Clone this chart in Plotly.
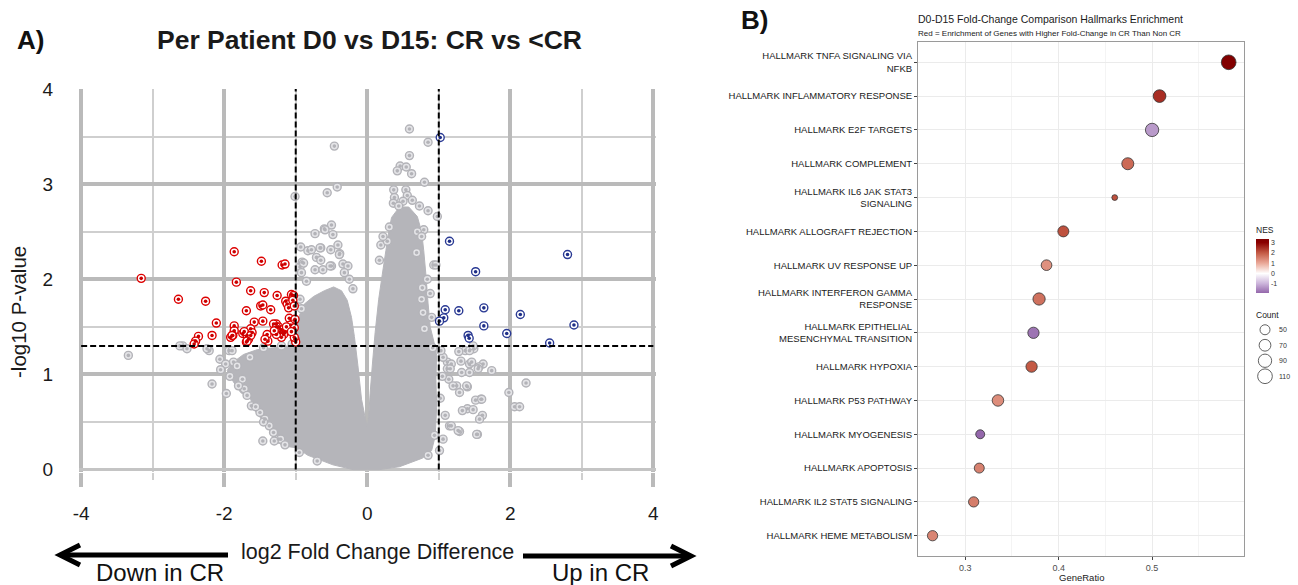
import math
import plotly.graph_objects as go

W, H = 1298, 585

# ---------------- Panel A data (volcano) ----------------
# outline of the dense grey cloud (log2FC difference, -log10 p)
cloud_x = [0.0, -0.20, -0.48, -0.83, -0.99, -1.10, -1.22, -1.33, -1.40, -1.52, -1.59, -1.63, -1.77, -1.87,
           -1.96, -1.89, -1.73, -1.54, -1.31, -1.02, -0.99, -0.96, -0.88, -0.75, -0.60, -0.47, -0.36, -0.28,
           -0.22, -0.18, -0.13, -0.08, -0.03, 0.0, 0.02, 0.04, 0.07, 0.11, 0.16, 0.21, 0.26, 0.30, 0.34,
           0.45, 0.58, 0.70, 0.76, 0.79, 0.82, 0.85, 0.88, 0.93, 0.97, 0.96, 0.97, 0.95, 0.90, 0.77, 0.45, 0.17]
cloud_y = [0.0, 0.0, 0.05, 0.15, 0.23, 0.24, 0.27, 0.36, 0.46, 0.57, 0.64, 0.74, 0.81, 0.92,
           1.04, 1.12, 1.21, 1.26, 1.28, 1.31, 1.45, 1.60, 1.74, 1.82, 1.88, 1.92, 1.88, 1.78,
           1.60, 1.40, 1.09, 0.74, 0.55, 0.45, 0.55, 0.80, 1.09, 1.44, 1.79, 2.05, 2.30, 2.50, 2.65,
           2.76, 2.76, 2.66, 2.50, 2.30, 2.05, 1.75, 1.50, 1.35, 1.20, 0.95, 0.65, 0.35, 0.20, 0.12, 0.03, 0.0]

grey_points = [
    (0.59, 3.58), (-0.46, 3.40), (0.85, 3.44), (0.59, 3.30), (0.46, 3.19), (0.545, 3.18), (0.42, 3.14),
    (0.62, 3.11), (0.80, 3.02), (-0.42, 2.97), (-0.56, 2.91), (-1.01, 2.87), (0.37, 2.94), (0.54, 2.94),
    (0.38, 2.86), (0.56, 2.88), (0.365, 2.80), (0.50, 2.82), (0.63, 2.83), (0.44, 2.77), (0.73, 2.77),
    (0.85, 2.72), (0.98, 2.66), (0.79, 2.52), (0.70, 2.50), (0.19, 2.36), (0.28, 2.40), (0.93, 2.15),
    (0.69, 2.28), (0.31, 2.55), (-0.50, 2.57), (-0.60, 2.53), (-0.73, 2.48), (-0.93, 2.34), (-0.83, 2.30),
    (-0.65, 2.33), (-0.51, 2.31), (-0.41, 2.36), (-0.385, 2.27), (-0.71, 2.23), (-0.65, 2.20), (-0.94, 2.13),
    (-0.91, 2.18), (-0.73, 2.10), (-0.62, 2.10), (-0.50, 2.14), (-0.34, 2.16), (-0.27, 2.14), (-0.89, 2.17),
    (-0.78, 2.31), (-0.59, 2.52), (-0.48, 2.47), (-0.66, 2.33), (-0.39, 2.26), (-0.32, 2.07), (-0.92, 2.07),
    (-0.85, 1.98), (-0.52, 2.14), (-0.94, 1.79), (-0.92, 1.69), (0.96, 2.15), (0.84, 2.00), (0.76, 1.79),
    (0.76, 2.45), (0.77, 1.91), (0.78, 1.65), (0.80, 1.48), (-0.25, 2.00), (-0.20, 1.90), (0.17, 2.20),
    (0.22, 2.45), (0.88, 1.85), (0.90, 1.60),
    (-3.34, 1.20), (-2.17, 0.90), (-1.97, 0.80), (-1.46, 0.30), (-2.06, 1.16), (-1.87, 1.13), (-1.93, 1.25),
    (-2.21, 1.25), (-2.24, 1.27), (-2.58, 1.30), (-2.52, 1.27), (-2.62, 1.30), (-1.98, 1.11), (-1.64, 1.18),
    (-1.82, 1.09), (-1.745, 0.95), (-1.72, 0.85), (-1.62, 0.67), (-1.50, 0.60), (-1.43, 0.53), (-1.37, 0.46),
    (-1.31, 0.39), (-1.24, 0.32), (-1.21, 0.32), (-1.89, 1.25), (-2.05, 1.05), (-1.92, 0.98), (-1.80, 0.88),
    (-1.68, 0.78), (-1.56, 0.66), (-1.45, 0.50), (-1.30, 0.30), (-1.15, 0.26), (-0.95, 0.18), (-0.70, 0.09),
    (-1.05, 1.32), (-1.20, 1.30), (-1.45, 1.28),
    (1.14, 0.95), (1.25, 0.88), (1.40, 0.87), (1.59, 0.74), (1.40, 0.64), (1.61, 0.57), (1.29, 0.40),
    (1.54, 0.37), (1.15, 0.46), (1.09, 0.57), (1.98, 0.81), (2.06, 0.66), (2.13, 0.66), (2.22, 0.91),
    (1.74, 1.04), (1.37, 1.25), (1.49, 1.27), (1.62, 1.11), (1.31, 1.14), (1.43, 1.11), (1.56, 1.08),
    (1.12, 1.13), (1.12, 1.06), (0.915, 1.28), (1.28, 1.24), (1.43, 1.25), (1.48, 1.30), (1.46, 1.13),
    (1.175, 1.11), (1.06, 1.18), (1.16, 1.06), (1.32, 1.02), (1.43, 1.02), (1.55, 1.06), (1.20, 0.88),
    (1.29, 0.81), (1.39, 0.88), (1.515, 0.73), (1.60, 0.74), (1.33, 0.62), (1.48, 0.63), (1.57, 0.53),
    (1.53, 0.37), (1.27, 0.41), (1.175, 0.46), (1.06, 0.32), (0.94, 0.36), (1.02, 0.75), (1.05, 0.98),
    (1.01, 0.20), (0.85, 0.15), (1.03, 1.25),
]

down_points = [
    (-3.16, 2.01), (-1.86, 2.29), (-1.48, 2.19), (-1.19, 2.15), (-1.15, 2.16), (-1.83, 1.97), (-2.64, 1.79),
    (-2.26, 1.77), (-1.63, 1.88), (-1.44, 1.86), (-1.26, 1.83), (-1.06, 1.84), (-1.14, 1.77), (-1.12, 1.74),
    (-1.10, 1.70), (-1.49, 1.72), (-1.46, 1.73), (-1.35, 1.68), (-1.69, 1.67), (-2.11, 1.54), (-1.86, 1.51),
    (-1.86, 1.46), (-1.58, 1.55), (-1.46, 1.56), (-1.27, 1.53), (-1.24, 1.50), (-1.21, 1.47), (-1.18, 1.44),
    (-1.15, 1.44), (-1.09, 1.59), (-1.02, 1.57), (-1.07, 1.52), (-1.02, 1.49), (-2.36, 1.40), (-2.40, 1.35),
    (-2.42, 1.32), (-2.17, 1.41), (-1.91, 1.39), (-1.88, 1.41), (-1.74, 1.43), (-1.68, 1.41), (-1.63, 1.48),
    (-1.61, 1.44), (-1.69, 1.34), (-1.66, 1.37), (-1.40, 1.42), (-1.39, 1.35), (-1.43, 1.37), (-1.31, 1.53),
    (-1.27, 1.50), (-1.22, 1.44), (-1.17, 1.42), (-1.20, 1.39), (-1.27, 1.42), (-1.01, 1.37), (-1.00, 1.34),
    (-1.03, 1.83), (-1.04, 1.78), (-1.02, 1.72), (-1.01, 1.58), (-1.02, 1.39), (-1.72, 1.45), (-1.63, 1.41),
    (-1.68, 1.35), (-1.89, 1.41), (-1.30, 1.46), (-1.13, 1.50), (-1.06, 1.45),
]

up_points = [
    (1.15, 2.40), (2.80, 2.26), (1.515, 2.08), (1.09, 1.68), (1.28, 1.67), (1.63, 1.70), (2.14, 1.63),
    (1.07, 1.595), (1.01, 1.56), (1.63, 1.51), (2.89, 1.52), (1.95, 1.43), (1.41, 1.41), (1.425, 1.38),
    (2.55, 1.33), (1.02, 3.49),
]

fc_cut = [-1, 1]
p_cut = 1.30
x_ticks = [-4, -2, 0, 2, 4]
y_ticks = [0, 1, 2, 3, 4]

# ---------------- Panel B data (hallmark enrichment) ----------------
pathways = [
    "HALLMARK TNFA SIGNALING VIA<br>NFKB",
    "HALLMARK INFLAMMATORY RESPONSE",
    "HALLMARK E2F TARGETS",
    "HALLMARK COMPLEMENT",
    "HALLMARK IL6 JAK STAT3<br>SIGNALING",
    "HALLMARK ALLOGRAFT REJECTION",
    "HALLMARK UV RESPONSE UP",
    "HALLMARK INTERFERON GAMMA<br>RESPONSE",
    "HALLMARK EPITHELIAL<br>MESENCHYMAL TRANSITION",
    "HALLMARK HYPOXIA",
    "HALLMARK P53 PATHWAY",
    "HALLMARK MYOGENESIS",
    "HALLMARK APOPTOSIS",
    "HALLMARK IL2 STAT5 SIGNALING",
    "HALLMARK HEME METABOLISM",
]
gene_ratio = [0.582, 0.508, 0.500, 0.474, 0.460, 0.405, 0.387, 0.379, 0.373, 0.371, 0.335, 0.316, 0.315, 0.309, 0.265]
nes = [3.3, 2.5, -1.3, 1.8, 2.1, 2.1, 1.3, 1.7, -1.75, 2.0, 1.35, -1.9, 1.5, 1.55, 1.45]
counts = [110, 82, 90, 73, 16, 61, 57, 76, 64, 64, 67, 40, 50, 53, 53]
count_breaks = [50, 70, 90, 110]
nes_ticks = [-1, 0, 1, 2, 3]
ratio_ticks = [0.3, 0.4, 0.5]
NES_MIN, NES_MAX = -1.9, 3.35


def dot_size(c):
    return 10 + 1.374 * (math.sqrt(c) - math.sqrt(50))


def px(x):
    return x / W


def py(y):
    return 1 - y / H


def nes_pos(v):
    return (v - NES_MIN) / (NES_MAX - NES_MIN)


FONT = "Liberation Sans, Arial, sans-serif"
fig = go.Figure()

# grey cloud as a filled region in data coordinates
cloud_path = "M " + " L ".join(f"{a},{b}" for a, b in zip(cloud_x, cloud_y)) + " Z"
fig.add_shape(type="path", xref="x", yref="y", path=cloud_path, fillcolor="#b5b5ba",
              line=dict(color="#b5b5ba", width=1), layer="between")


def ringed(points, ring, fill, dot):
    xs = [p[0] for p in points]
    ys = [p[1] for p in points]
    fig.add_trace(go.Scatter(x=xs, y=ys, mode="markers", showlegend=False, hoverinfo="skip",
                             marker=dict(size=8, color=fill, line=dict(color=ring, width=1.4)),
                             xaxis="x", yaxis="y"))
    fig.add_trace(go.Scatter(x=xs, y=ys, mode="markers", showlegend=False, hoverinfo="skip",
                             marker=dict(size=3.6, color=dot, line=dict(width=0)),
                             xaxis="x", yaxis="y"))


ringed(grey_points, "#b3b3b8", "#e4e4e7", "#b3b3b8")
ringed(down_points, "#dd0000", "#ffffff", "#cc0000")
ringed(up_points, "#2a3a94", "#ffffff", "#1f2f88")

# threshold lines
for v in fc_cut:
    fig.add_shape(type="line", xref="x", yref="y", x0=v, x1=v, y0=0, y1=4,
                  line=dict(color="black", width=2, dash="6px,3px"), layer="above")
fig.add_shape(type="line", xref="x", yref="y", x0=-4, x1=4, y0=p_cut, y1=p_cut,
              line=dict(color="black", width=2, dash="6px,3px"), layer="above")

# Panel B dots
colorscale = [[0, "#9467ab"], [nes_pos(-1), "#cbb3da"], [nes_pos(0), "#ffffff"], [nes_pos(1), "#eaa898"],
              [nes_pos(2), "#c45a45"], [nes_pos(3), "#8b0000"], [1, "#800000"]]
fig.add_trace(go.Scatter(
    x=gene_ratio, y=pathways, mode="markers", showlegend=False, hoverinfo="skip",
    marker=dict(size=[dot_size(c) for c in counts], color=nes, cmin=NES_MIN, cmax=NES_MAX, opacity=1,
                colorscale=colorscale, line=dict(color="#333333", width=0.8),
                colorbar=dict(x=px(1256), xanchor="left", y=py(224), yanchor="top", len=69, lenmode="pixels",
                              thickness=13, outlinewidth=0, tickvals=nes_ticks,
                              ticktext=[str(t) for t in nes_ticks], ticklen=0,
                              tickfont=dict(size=7, color="#333", family=FONT),
                              title=dict(text="NES", font=dict(size=8.5, color="#222", family=FONT), side="top"),
                              xpad=0, ypad=0)),
    xaxis="x2", yaxis="y2"))

# size legend (Count) drawn on its own small axis
fig.add_trace(go.Scatter(
    x=[0] * len(count_breaks), y=[str(c) for c in count_breaks], mode="markers", showlegend=False,
    hoverinfo="skip",
    marker=dict(size=[dot_size(c) for c in count_breaks], color="white", line=dict(color="#222", width=1)),
    xaxis="x3", yaxis="y3"))

fig.update_layout(
    width=W, height=H, margin=dict(l=0, r=0, t=0, b=0, autoexpand=False),
    paper_bgcolor="white", plot_bgcolor="white", showlegend=False,
    font=dict(family=FONT, color="#1a1a1a"),
    xaxis=dict(domain=[px(79), px(655.5)], range=[-4.03, 4.03], tickmode="array", tickvals=x_ticks,
               ticktext=[str(t) for t in x_ticks],
               showgrid=True, gridcolor="#bababa", gridwidth=4, zeroline=False, showline=False,
               ticks="outside", ticklen=14, tickwidth=4, tickcolor="#bababa",
               tickfont=dict(size=19, color="#1a1a1a"), ticklabelstandoff=11,
               minor=dict(tickmode="linear", tick0=0, dtick=1, showgrid=True, gridcolor="#cfcfcf", gridwidth=1.5,
                          ticks="outside", ticklen=7, tickwidth=1.5, tickcolor="#cfcfcf"),
               anchor="y"),
    yaxis=dict(domain=[py(471.5), py(89)], range=[-0.02, 4], tickmode="array", tickvals=y_ticks,
               ticktext=[str(t) for t in y_ticks],
               showgrid=True, gridcolor="#bababa", gridwidth=4, zeroline=True, zerolinecolor="#c4c4c4",
               zerolinewidth=2.5, showline=False, ticks="", tickfont=dict(size=19, color="#1a1a1a"),
               ticklabelstandoff=25,
               minor=dict(tickmode="linear", tick0=0, dtick=0.5, showgrid=True, gridcolor="#cfcfcf", gridwidth=1.5),
               anchor="x"),
    xaxis2=dict(domain=[px(918), px(1244)], range=[0.2494, 0.5984], tickvals=ratio_ticks,
                ticktext=[str(t) for t in ratio_ticks], showgrid=True, gridcolor="#ebebeb", gridwidth=1,
                minor=dict(tickvals=[0.25, 0.35, 0.45, 0.55], showgrid=True, gridcolor="#f4f4f4", gridwidth=0.6),
                zeroline=False, showline=True, mirror=True, linecolor="#9a9a9a", linewidth=1,
                ticks="outside", ticklen=3, tickcolor="#444", tickwidth=0.8,
                tickfont=dict(size=9, color="#4d4d4d"), anchor="y2"),
    yaxis2=dict(domain=[py(556), py(42)], type="category", categoryorder="array",
                categoryarray=pathways[::-1], range=[-0.6, 14.6],
                showgrid=True, gridcolor="#ebebeb", gridwidth=1, zeroline=False,
                showline=True, mirror=True, linecolor="#9a9a9a", linewidth=1,
                ticks="outside", ticklen=3, tickcolor="#444", tickwidth=0.8,
                tickfont=dict(size=9.5, color="#1a1a1a"), anchor="x2"),
    xaxis3=dict(domain=[px(1257), px(1273)], range=[-1, 1], visible=False, anchor="y3"),
    yaxis3=dict(domain=[py(384), py(322)], type="category", categoryorder="array",
                categoryarray=[str(c) for c in count_breaks[::-1]], range=[-0.5, 3.5],
                side="right", anchor="x3", showgrid=False, zeroline=False, showline=False, ticks="",
                ticklabelstandoff=5, tickfont=dict(size=7, color="#333")),
)

ann = [
    dict(text="<b>A)</b>", x=px(15), y=py(40), xanchor="left", font=dict(size=26, color="#111")),
    dict(text="<b>Per Patient D0 vs D15: CR vs &lt;CR</b>", x=px(369.5), y=py(40), xanchor="center",
         font=dict(size=26.5, color="#1a1a1a")),
    dict(text="<b>B)</b>", x=px(739), y=py(20), xanchor="left", font=dict(size=26, color="#111")),
    dict(text="D0-D15 Fold-Change Comparison Hallmarks Enrichment", x=px(916), y=py(19), xanchor="left",
         font=dict(size=10.5, color="#1a1a1a")),
    dict(text="Red = Enrichment of Genes with Higher Fold-Change in CR Than Non CR", x=px(916), y=py(33),
         xanchor="left", font=dict(size=8, color="#1a1a1a")),
    dict(text="log2 Fold Change Difference", x=px(377), y=py(552), xanchor="center",
         font=dict(size=21.5, color="#1a1a1a")),
    dict(text="-log10 P-value", x=px(18), y=py(312), xanchor="center", textangle=-90,
         font=dict(size=20.5, color="#1a1a1a")),
    dict(text="Down in CR", x=px(159.5), y=py(572), xanchor="center", font=dict(size=24, color="#111")),
    dict(text="Up in CR", x=px(600.5), y=py(572), xanchor="center", font=dict(size=24, color="#111")),
    dict(text="GeneRatio", x=px(1081), y=py(577), xanchor="center", font=dict(size=9.5, color="#1a1a1a")),
    dict(text="Count", x=px(1254), y=py(315), xanchor="left", font=dict(size=8.5, color="#222")),
]
for a in ann:
    a.update(xref="paper", yref="paper", showarrow=False, yanchor="middle")
    fig.add_annotation(**a)


def path(pts):
    return "M " + " L ".join(f"{px(a)},{py(b)}" for a, b in pts)


for pts in ([(228, 555), (62, 555)], [(80, 545), (60, 555), (80, 565)],
            [(523, 556), (690, 556)], [(671, 546), (691, 556), (671, 566)]):
    fig.add_shape(type="path", xref="paper", yref="paper", path=path(pts),
                  line=dict(color="black", width=5))

fig.write_html("out.html", config={"displayModeBar": False},
               post_script="document.body.style.margin='0';document.body.style.overflow='hidden';")
